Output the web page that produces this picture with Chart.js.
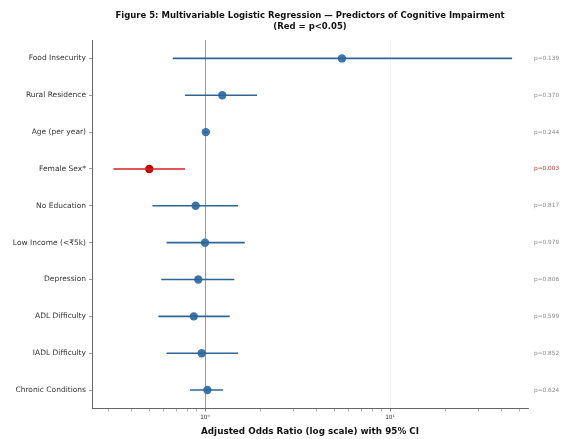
<!DOCTYPE html>
<html>
<head>
<meta charset="utf-8">
<script src="https://cdn.jsdelivr.net/npm/chart.js@4.4.1/dist/chart.umd.min.js"></script>
<style>
  html, body { margin: 0; padding: 0; background: #fff; }
  #wrap { width: 570px; height: 439px; }
</style>
</head>
<body>
<div id="wrap"><canvas id="c" width="570" height="439"></canvas></div>
<script>
// Predictors, top to bottom
const predictors = [
  'Food Insecurity', 'Rural Residence', 'Age (per year)', 'Female Sex*',
  'No Education', 'Low Income (<₹5k)', 'Depression', 'ADL Difficulty',
  'IADL Difficulty', 'Chronic Conditions'
];
// Adjusted odds ratios and 95% confidence limits
const oddsRatios = [5.5, 1.24, 1.01, 0.50, 0.89, 1.00, 0.92, 0.87, 0.96, 1.03];
const ciLower    = [0.67, 0.78, 0.99, 0.32, 0.52, 0.62, 0.58, 0.56, 0.62, 0.83];
const ciUpper    = [45.7, 1.91, 1.03, 0.78, 1.51, 1.64, 1.44, 1.36, 1.51, 1.25];
const pValues    = ['p=0.139', 'p=0.370', 'p=0.244', 'p=0.003', 'p=0.817',
                    'p=0.979', 'p=0.806', 'p=0.599', 'p=0.852', 'p=0.624'];
const xTickLabels = { 1: '10\u2070', 10: '10\u00b9' };
const titleLines = ['Figure 5: Multivariable Logistic Regression \u2014 Predictors of Cognitive Impairment', '(Red = p<0.05)'];

const BLUE = '#3a76ab', BLUE_LINE = '#2f6594';
const RED = '#c80000', RED_LINE = '#d42020';
const isSig = p => parseFloat(p.slice(2)) < 0.05;

const datasets = [];
// Confidence-interval whiskers
predictors.forEach((name, i) => {
  const sig = isSig(pValues[i]);
  datasets.push({
    type: 'line',
    data: [{ x: ciLower[i], y: i }, { x: ciUpper[i], y: i }],
    borderColor: sig ? RED_LINE : BLUE_LINE,
    borderWidth: 1.6,
    pointRadius: 0,
    fill: false
  });
});
// Point estimates
datasets.push({
  type: 'scatter',
  data: oddsRatios.map((v, i) => ({ x: v, y: i })),
  pointRadius: 4.2,
  pointBackgroundColor: pValues.map(p => isSig(p) ? RED : BLUE),
  pointBorderColor: pValues.map(p => isSig(p) ? RED : BLUE),
  pointBorderWidth: 0
});

const minorTicks = [0.3, 0.4, 0.5, 0.6, 0.7, 0.8, 0.9, 1, 2, 3, 4, 5, 6, 7, 8, 9, 10, 20, 30, 40, 50];
const rowTicks = scale => { scale.ticks = predictors.map((_, i) => ({ value: i })); };

// Title centred over the plotting area rather than the whole canvas
const axesTitle = {
  id: 'axesTitle',
  afterDraw(chart) {
    const { ctx, chartArea } = chart;
    const cx = (chartArea.left + chartArea.right) / 2;
    ctx.save();
    ctx.fillStyle = '#111';
    ctx.font = 'bold 8.5px "DejaVu Sans"';
    ctx.textAlign = 'center';
    ctx.textBaseline = 'middle';
    titleLines.forEach((line, i) => ctx.fillText(line, cx, 16 + i * 10.5));
    ctx.restore();
  }
};

new Chart(document.getElementById('c'), {
  type: 'scatter',
  data: { datasets },
  plugins: [axesTitle],
  options: {
    responsive: false,
    animation: false,
    layout: { padding: { left: 0, right: 0, top: 40, bottom: 2 } },
    plugins: {
      legend: { display: false },
      tooltip: { enabled: false },
      title: { display: false }
    },
    scales: {
      x: {
        type: 'logarithmic',
        min: 0.245,
        max: 55.7,
        afterBuildTicks: s => { s.ticks = minorTicks.map(v => ({ value: v, major: v === 1 || v === 10 })); },
        ticks: {
          autoSkip: false,
          maxRotation: 0,
          color: '#333',
          font: { family: 'DejaVu Sans', size: 5.8 },
          padding: 3,
          callback: v => xTickLabels[v] || ''
        },
        grid: {
          drawOnChartArea: true,
          color: c => c.tick && c.tick.value === 1 ? '#9a9a9a' : (c.tick && c.tick.value === 10 ? '#ececec' : 'rgba(0,0,0,0)'),
          lineWidth: c => c.tick && c.tick.value === 1 ? 1 : 0.8,
          tickColor: '#777',
          tickLength: 3,
          tickWidth: c => c.tick && (c.tick.value === 1 || c.tick.value === 10) ? 0.9 : 0.6
        },
        border: { display: true, color: '#666', width: 1 },
        title: {
          display: true,
          text: 'Adjusted Odds Ratio (log scale) with 95% CI',
          color: '#111',
          font: { family: 'DejaVu Sans', size: 8.8, weight: 'bold' },
          padding: { top: 2, bottom: 0 }
        }
      },
      y: {
        type: 'linear',
        min: -0.5,
        max: 9.5,
        reverse: true,
        afterBuildTicks: rowTicks,
        afterFit: s => { s.width = 92; },
        ticks: {
          autoSkip: false,
          color: '#333',
          font: { family: 'DejaVu Sans', size: 7.5 },
          padding: 3,
          callback: v => predictors[v]
        },
        grid: { drawOnChartArea: false, tickColor: '#777', tickLength: 3, tickWidth: 0.7 },
        border: { display: true, color: '#666', width: 1 }
      },
      p: {
        type: 'linear',
        position: 'right',
        min: -0.5,
        max: 9.5,
        reverse: true,
        afterBuildTicks: rowTicks,
        afterFit: s => { s.width = 42; },
        ticks: {
          autoSkip: false,
          padding: 6,
          font: { family: 'DejaVu Sans', size: 5.8 },
          color: c => isSig(pValues[c.index]) ? '#d43030' : '#8a8a8a',
          callback: v => pValues[v]
        },
        grid: { display: false, drawTicks: false },
        border: { display: false }
      }
    }
  }
});
</script>
</body>
</html>
